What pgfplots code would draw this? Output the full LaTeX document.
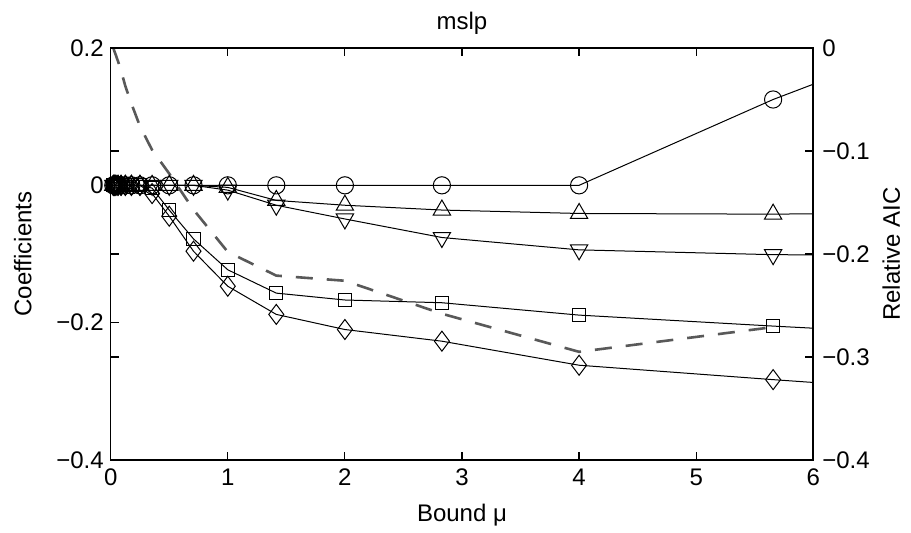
\documentclass[border=0pt]{standalone}
\usepackage{pgfplots}
\pgfplotsset{compat=1.18}
\usepackage{pgfplotstable}
\usepackage{fontspec}
\setmainfont{Liberation Sans}

\pgfplotstableread{
x       circ    tup     tdn     sq      dia     aic
0.0221  0       0       0       0       0       0
0.03125 0       0       0       0       0       -0.003
0.0442  0       0       0       0       0       -0.007
0.0625  0       0       0       0       0       -0.013
0.0884  0       0       0       0       0       -0.022
0.125   0       0       0       0       0       -0.037
0.1768  0       0       0       0       0       -0.054
0.25    0       0       0       0       0       -0.076
0.3536  0       0       0       -0.004  -0.012  -0.099
0.5     0       0       0       -0.036  -0.045  -0.122
0.7071  0       0       0       -0.078  -0.096  -0.157
1       0       -0.003  -0.007  -0.123  -0.147  -0.198
1.4142  0       -0.022  -0.029  -0.157  -0.188  -0.221
2       0       -0.029  -0.049  -0.167  -0.210  -0.226
2.8284  0       -0.036  -0.076  -0.171  -0.227  -0.258
4       0       -0.041  -0.094  -0.189  -0.262  -0.295
5.6569  0.125   -0.042  -0.101  -0.205  -0.283  -0.271
8       0.277   -0.038  -0.103  -0.226  -0.311  nan
}\data

\newcommand{\lblfont}{\fontsize{12}{14}\selectfont}
\pgfplotsset{
  common/.style={
    scale only axis, width=351.3pt, height=206pt,
    xmin=0, xmax=6,
    tick align=inside, major tick length=4pt,
    axis line style={line width=0.8pt},
    every tick/.style={black, line width=0.6pt},
    tick label style={font=\lblfont},
    /pgf/number format/assume math mode=true,
  }
}

\begin{document}
\begin{tikzpicture}
\begin{axis}[common, name=aic,
  ymin=-0.4, ymax=0,
  ytick={-0.4,-0.3,-0.2,-0.1,0},
  yticklabels={−0.4,−0.3,−0.2,−0.1,0},
  ytick pos=both, yticklabel pos=right,
  yticklabel style={xshift=1pt},
  hide x axis,
]
\addplot[color=black!65, line width=1.3pt, dash pattern=on 8.5pt off 7pt, unbounded coords=jump] table[x=x, y=aic] {\data};
\end{axis}
\begin{axis}[common, name=main,
  ymin=-0.4, ymax=0.2,
  xtick={0,1,2,3,4,5,6},
  ytick={-0.4,-0.2,0,0.2},
  yticklabels={−0.4,−0.2,0,0.2},
  xtick pos=both, ytick pos=left,
  xticklabel style={yshift=-1pt},
  title={mslp},
  title style={font=\lblfont, yshift=-3pt},
]
\addplot[black, line width=0.5pt, mark=o, mark size=4.3pt] table[x=x, y=circ] {\data};
\addplot[black, line width=0.5pt, mark=triangle, mark size=5pt] table[x=x, y=tup] {\data};
\addplot[black, line width=0.5pt, mark=triangle, mark size=5pt, mark options={rotate=180}] table[x=x, y=tdn] {\data};
\addplot[black, line width=0.5pt, mark=square, mark size=3.3pt] table[x=x, y=sq] {\data};
\addplot[black, line width=0.5pt, mark=diamond, mark size=5pt] table[x=x, y=dia] {\data};
\end{axis}
\path (main.south) ++(0,-27.5pt) node[font=\lblfont] {Bound μ};
\path (main.west) ++(-44pt,0) node[font=\lblfont, rotate=90] {Coefficients};
\path (main.east) ++(39pt,0) node[font=\lblfont, rotate=90] {Relative AIC};
\path (main.south west) ++(-55.35pt,-35.5pt) coordinate (bbA);
\path (main.north east) ++(48.85pt,24pt) coordinate (bbB);
\path (bbA) rectangle (bbB);
\end{tikzpicture}
\end{document}
